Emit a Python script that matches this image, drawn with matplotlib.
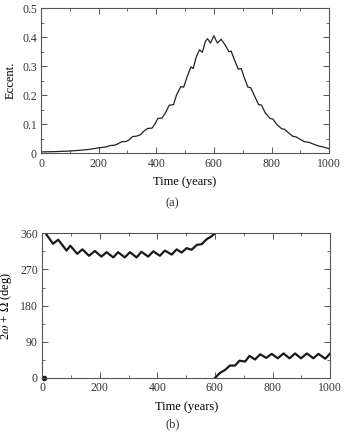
import matplotlib
matplotlib.use('Agg')
import matplotlib.pyplot as plt
from matplotlib.ticker import MultipleLocator

plt.rcParams['font.family'] = 'Liberation Serif'
plt.rcParams['mathtext.fontset'] = 'stix'
plt.rcParams['font.size'] = 8

# (a) eccentricity vs time
ecc_t = [0, 50, 100, 140, 170, 200, 225, 240, 255, 265, 280, 295, 305, 318, 330, 345,
         355, 370, 385, 395, 405, 420, 432, 445, 460, 470, 485, 495, 505, 520, 528,
         538, 550, 560, 570, 578, 588, 600, 612, 625, 640, 652, 660, 672, 685, 695,
         705, 718, 728, 740, 755, 765, 778, 795, 805, 818, 835, 845, 860, 875, 885,
         900, 915, 930, 950, 965, 980, 1000]
ecc = [0.005, 0.006, 0.008, 0.011, 0.014, 0.019, 0.022, 0.027, 0.028, 0.032, 0.040,
       0.041, 0.046, 0.058, 0.059, 0.064, 0.075, 0.086, 0.087, 0.100, 0.120, 0.122,
       0.140, 0.166, 0.168, 0.200, 0.230, 0.228, 0.258, 0.298, 0.292, 0.330, 0.357,
       0.348, 0.385, 0.395, 0.380, 0.405, 0.380, 0.393, 0.372, 0.350, 0.352, 0.320,
       0.290, 0.292, 0.262, 0.228, 0.226, 0.200, 0.168, 0.166, 0.140, 0.120, 0.118,
       0.100, 0.085, 0.083, 0.070, 0.058, 0.057, 0.048, 0.040, 0.038, 0.030, 0.025,
       0.022, 0.016]

# (b) resonant angle 2w + Omega, two branches (wraps at 360)
ang1_t = [12, 38, 56, 85, 98, 122, 140, 163, 183, 206, 224, 247, 264, 287, 305, 328,
          345, 368, 386, 409, 426, 450, 467, 484, 502, 519, 537, 554, 571, 589, 600]
ang1 = [360, 334, 344, 317, 329, 309, 320, 304, 316, 302, 313, 300, 313, 300, 313, 300,
        314, 302, 315, 304, 317, 307, 320, 312, 323, 319, 331, 333, 345, 353, 360]
ang2_t = [600, 618, 635, 652, 670, 685, 705, 720, 739, 757, 778, 797, 818, 838, 859,
          878, 899, 919, 942, 959, 983, 1000]
ang2 = [0, 13, 20, 31, 31, 43, 41, 55, 46, 59, 50, 60, 49, 61, 49, 61, 49, 61, 49, 60,
        48, 61]
dot_t = [6]
dot = [1]

ecc_ticks = [0, 0.1, 0.2, 0.3, 0.4, 0.5]
ecc_labels = ['0', '0.1', '0.2', '0.3', '0.4', '0.5']
ang_ticks = [0, 90, 180, 270, 360]
time_ticks = [0, 200, 400, 600, 800, 1000]

fig = plt.figure(figsize=(3.45, 4.32), dpi=100)
ax1 = fig.add_axes([0.119, 0.645, 0.835, 0.336])
ax2 = fig.add_axes([0.122, 0.125, 0.835, 0.335])

ax1.plot(ecc_t, ecc, color='#222222', lw=0.9, solid_joinstyle='round')
ax1.set_xlim(0, 1000)
ax1.set_ylim(0, 0.5)
ax1.set_yticks(ecc_ticks)
ax1.set_yticklabels(ecc_labels)
ax1.set_ylabel('Eccent.', fontsize=9, labelpad=4)

ax2.plot(ang1_t, ang1, color='#1a1a1a', lw=1.6, solid_joinstyle='round')
ax2.plot(ang2_t, ang2, color='#1a1a1a', lw=1.6, solid_joinstyle='round')
ax2.plot(dot_t, dot, 'o', color='#1a1a1a', ms=3, clip_on=False)
ax2.set_xlim(0, 1000)
ax2.set_ylim(0, 360)
ax2.set_yticks(ang_ticks)
ax2.yaxis.set_minor_locator(MultipleLocator(45))
ax2.set_ylabel(r'2$\omega$ + $\mathrm{\Omega}$ (deg)', fontsize=9, labelpad=4)

ax1.yaxis.set_minor_locator(MultipleLocator(0.05))
for ax in (ax1, ax2):
    ax.set_xticks(time_ticks)
    ax.xaxis.set_minor_locator(MultipleLocator(100))
    ax.set_xlabel('Time (years)', fontsize=9, labelpad=5)
    ax.tick_params(which='both', direction='in', top=True, right=True,
                   color='#555555', labelcolor='#333333', labelsize=8.5)
    ax.tick_params(which='major', length=4, width=0.7, pad=3)
    ax.tick_params(which='minor', length=2.5, width=0.6)
    for s in ax.spines.values():
        s.set_color('#555555')
        s.set_linewidth(0.8)

fig.text(0.5, 1 - 203 / 432, '(a)', ha='center', va='center', fontsize=9, color='#333333')
fig.text(0.5, 1 - 424 / 432, '(b)', ha='center', va='center', fontsize=9, color='#333333')

fig.savefig('out.png', dpi=100)
